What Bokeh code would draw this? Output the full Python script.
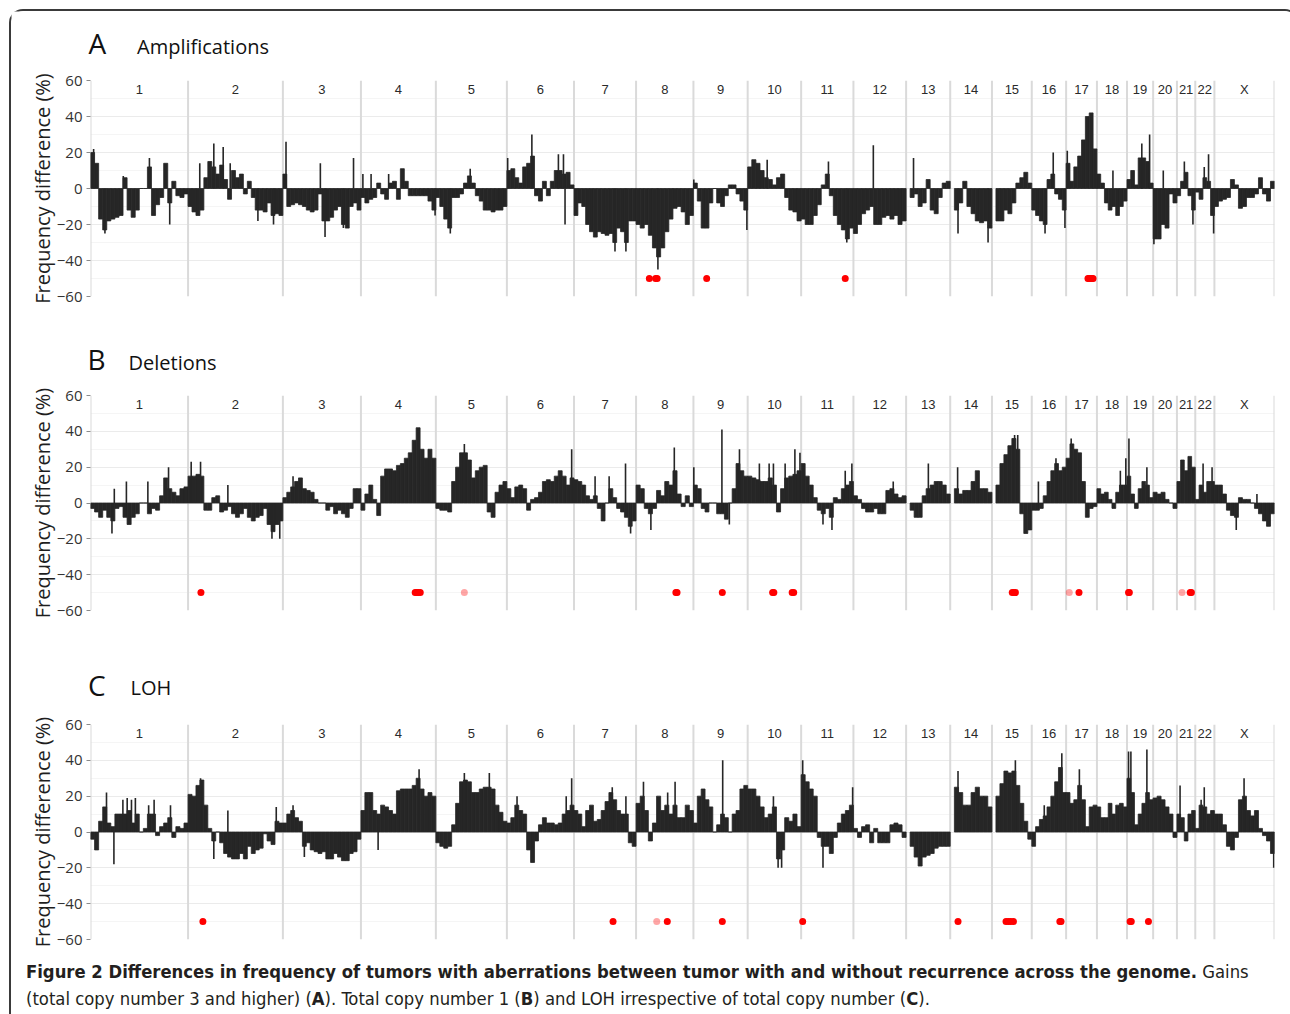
import numpy as np
from bokeh.plotting import figure
from bokeh.models import Range1d, SingleIntervalTicker, Div
from bokeh.layouts import column
from bokeh.core.properties import value
from bokeh.embed import file_html
from bokeh.resources import INLINE

# ---------------------------------------------------------------- data
CHROMS = ["1", "2", "3", "4", "5", "6", "7", "8", "9", "10", "11", "12",
          "13", "14", "15", "16", "17", "18", "19", "20", "21", "22", "X"]
CHROM_LEN = [250, 243, 200, 192, 182, 172, 159, 147, 139, 137, 134, 135,
             113, 107, 102, 88, 79, 77, 67, 61, 47, 49, 154]  # Mb
Y_TICKS = [-60, -40, -20, 0, 20, 40, 60]

# binned frequency differences (%) per chromosome, equal-width bins
AMP_BINS = [
    [20, 14, -17, -23, -18, -17, -16, -15, 6, -12, -16, -12, 0, 0, 12, -15, -9, -5, 14, -8, 4, -4, -5, -3],
    [-10, -13, -15, -12, 6, 15, 12, 8, 13, 5, -6, 10, 6, 8, -3, 4, -5, -12, -12, -13, -8, -15, -14, -15],
    [8, -10, -9, -8, -9, -10, -12, -13, -12, -3, -18, -18, -16, -12, -10, -20, -22, -10, -8, -12],
    [-5, -8, -6, -5, 3, -3, -6, 3, 4, -6, 11, 4, -4, -4, -4, -4, -4, -7, -12],
    [-5, -10, -17, -22, -5, -5, -3, 3, 7, 3, -4, -7, -12, -12, -13, -12, -12, -10],
    [10, 11, 6, 3, 12, 14, 18, -4, -7, 4, -4, 4, 10, 10, 8, 9, 2],
    [-15, -8, -10, -20, -24, -27, -24, -25, -26, -25, -30, -22, -24, -30, -18, -18],
    [-20, -22, -20, -26, -33, -38, -33, -24, -17, -11, -10, -13, -20, -15],
    [3, -7, -22, -22, -8, 0, -8, -10, -4, 2, 2, -3, -7, -12],
    [12, 16, 14, 10, 6, 5, 2, 6, 8, -5, -12, -13, -18],
    [-17, -20, -20, -15, -9, 2, 8, -4, -15, -20, -23, -28, -22],
    [-25, -20, -14, -12, -10, -20, -20, -16, -15, -17, -15, -20, -18],
    [None, -5, -3, -10, -8, 5, -12, -14, -5, 3, 4],
    [None, -12, -8, 4, -10, -14, -18, -19, -18, -22],
    [None, -18, -18, -12, -14, -8, 3, 6, 9, 3],
    [-12, -15, -18, -20, 5, 8, -3, -6, -12],
    [14, 4, 12, 18, 27, 40, 42, 22],
    [8, 3, -8, -12, -10, -15, -10, -7],
    [5, 10, 2, 17, 17, 15, 3],
    [-28, -28, -20, -22, -3, -8],
    [-4, 4, 9, -4, -12],
    [-2, -6, 6, 4, -15],
    [-10, -7, -6, -5, 5, 2, -11, -10, -5, -5, -3, 6, -3, -7, 4],
]
DEL_BINS = [
    [-3, -5, -8, -4, -8, -10, -3, -2, -8, -12, -8, -6, 0, 0, -6, -3, -4, 4, 14, 8, 6, 4, 8, 9],
    [15, 15, 16, 15, -4, -4, 3, 4, -5, -4, -2, -6, -8, -6, -3, -8, -10, -8, -7, -3, -12, -16, -12, -10],
    [3, 6, 9, 12, 14, 8, 7, 6, 2, 0, 0, -4, -2, -6, -4, -6, -8, -3, 8, 8],
    [-4, 5, 10, 2, -7, 15, 19, 19, 18, 21, 22, 25, 28, 35, 42, 30, 25, 30, 25],
    [-3, -4, -4, -5, 12, 20, 28, 28, 24, 14, 18, 20, 21, -5, -8, 6, 10, 12],
    [8, 3, 9, 10, 8, -4, 2, 3, 6, 12, 13, 12, 15, 18, 15, 10, 14],
    [13, 12, 10, 4, 2, 4, -3, -10, 0, 8, 3, -3, -5, -8, -13, -10],
    [10, 8, -3, -6, -3, 7, 4, 12, 10, 18, 5, -2, 4, -2],
    [10, 8, -3, -5, 0, 0, -6, -6, -9, 0, 8, 22, 18, 15],
    [15, 14, 13, 12, 12, 14, 10, -5, 8, 14, 15, 16, 18],
    [22, 15, 10, 3, -4, -6, -3, -8, 3, 2, 8, 10, 12],
    [4, 2, -3, -5, -5, -3, -6, -6, 7, 8, 5, 3, 4],
    [None, -4, -8, -8, 4, 8, 10, 12, 12, 10, 5],
    [None, 8, 5, 7, 7, 12, 18, 8, 8, 6],
    [None, 10, 22, 27, 32, 36, 30, -6, -17, -15],
    [-4, -4, -3, 4, 12, 18, 22, 18, 20],
    [25, 33, 30, 28, 12, -8, -3, -2],
    [8, 5, 6, 2, -3, 6, 10, 10],
    [15, 5, -3, 8, 12, 10, 3],
    [6, 5, 6, 2, 0, -3],
    [12, 24, 18, 26, 20],
    [2, 10, 6, 12, 12],
    [10, 10, 5, -4, -7, -8, 3, 2, 2, 0, -3, -6, -10, -13, -6],
]
LOH_BINS = [
    [-4, -10, 6, 14, 5, 3, 10, 10, 10, 12, 5, 10, 0, 2, 10, 10, -2, 3, 5, 8, -3, 3, 2, 5],
    [21, 20, 26, 29, 15, 2, -5, 0, -6, -12, -14, -15, -15, -12, -15, -8, -12, -10, -9, -1, -5, -7, 6, 5],
    [5, 10, 12, 8, 6, -8, -6, -10, -11, -12, -11, -15, -15, -12, -14, -16, -16, -12, -11, -4],
    [12, 22, 22, 12, 10, 15, 14, 12, 10, 23, 24, 24, 24, 26, 30, 24, 20, 22, 20],
    [-6, -8, -9, -8, 4, 16, 28, 29, 28, 22, 22, 24, 25, 25, 24, 15, 11, 6],
    [5, 8, 15, 12, 10, -10, -17, -5, 4, 8, 5, 5, 4, 5, 10, 12, 15],
    [12, 10, 3, 12, 15, 6, 7, 12, 17, 22, 18, 12, 10, 10, -6, -8],
    [16, 20, 12, -5, 5, 20, 12, 15, 10, 15, 8, 8, 15, 12],
    [5, 20, 24, 18, 14, 0, 4, 10, 8, 0, 10, 12, 24, 26],
    [24, 24, 20, 14, 8, 10, 14, -15, -10, 8, 6, 10, 3],
    [32, 28, 24, 20, -3, -8, -8, -12, -3, 5, 10, 12, 15],
    [2, -3, 3, 4, -6, 2, -6, -6, -6, 4, 5, 4, -3],
    [None, -8, -14, -19, -14, -13, -12, -9, -8, -8, -8],
    [None, 25, 22, 15, 15, 22, 25, 20, 20, 14],
    [None, 20, 27, 34, 33, 34, 26, 16, 6, -4],
    [-8, 3, 7, 9, 14, 20, 28, 36, 22],
    [22, 16, 18, 26, 18, 3, 14, 15],
    [14, 8, 8, 16, 10, 15, 16, 14],
    [30, 22, 4, 10, 16, 22, 18],
    [19, 20, 18, 14, 10, -3],
    [10, 8, -5, 10, 12],
    [2, 15, 14, 10, 12],
    [10, 10, 4, -8, -10, -3, 18, 20, 12, 9, 12, 2, -2, -5, -12],
]

# single-probe spikes: (chromosome, position Mb, value %)
AMP_SPIKES = [
    ("1", 8, 22), ("1", 37, -25), ("1", 84, 7), ("1", 151, 17), ("1", 203, -20),
    ("2", 30, 14), ("2", 66, 25), ("2", 90, 23), ("2", 108, 14), ("2", 179, -18), ("2", 219, -20),
    ("3", 8, 26), ("3", 96, 14), ("3", 108, -27), ("3", 155, -22), ("3", 181, 17),
    ("4", 5, 8), ("4", 26, 8), ("4", 71, 8), ("4", 190, -15),
    ("5", 37, -25), ("5", 88, 11),
    ("6", 2, 17), ("6", 64, 30), ("6", 132, 19), ("6", 145, 19), ("6", 149, -20),
    ("7", 105, -35), ("7", 133, -35), ("8", 56, -45),
    ("9", 1, 5), ("9", 137, -23), ("10", 50, 16),
    ("11", 70, 15), ("11", 117, -30), ("12", 51, 24), ("13", 19, 17),
    ("14", 20, -25), ("14", 97, -30),
    ("16", 34, -25), ("16", 55, 20), ("16", 85, -22), ("17", 3, 21), ("18", 41, 10),
    ("19", 38, 25), ("19", 58, 30), ("20", 2, -31), ("20", 26, 10),
    ("21", 19, 15), ("21", 41, -20), ("22", 23, 12), ("22", 34, 19), ("22", 47, -25),
]
DEL_SPIKES = [
    ("1", 55, -17), ("1", 61, 8), ("1", 92, 12), ("1", 147, 12), ("1", 200, 20),
    ("2", 8, 23), ("2", 32, 23), ("2", 102, 10), ("2", 215, -20), ("2", 235, -20),
    ("3", 26, 15), ("5", 73, 33), ("6", 166, 30),
    ("7", 54, 15), ("7", 90, 15), ("7", 132, 22), ("7", 145, -17),
    ("8", 38, -15), ("8", 98, 31),
    ("9", 1, 20), ("9", 73, 41), ("9", 92, -12), ("9", 118, 30),
    ("10", 30, 22), ("10", 55, 22), ("10", 66, 22), ("10", 96, 22), ("10", 121, 30), ("10", 134, 28),
    ("11", 56, -12), ("11", 79, -15), ("11", 113, 18), ("11", 130, 22),
    ("12", 102, 12), ("13", 57, 22), ("14", 19, 20), ("15", 58, 38), ("15", 66, 38),
    ("16", 17, 12), ("16", 62, 25), ("17", 13, 36), ("18", 60, 18), ("18", 74, 25),
    ("19", 5, 36), ("19", 51, 20), ("22", 20, 22), ("22", 43, 20),
    ("X", 56, -15), ("X", 109, 5),
]
LOH_SPIKES = [
    ("1", 41, 22), ("1", 60, -18), ("1", 83, 18), ("1", 94, 19), ("1", 105, 18), ("1", 115, 19),
    ("1", 149, 15), ("1", 163, 18), ("1", 205, 15),
    ("2", 32, 30), ("2", 66, -15), ("2", 102, 12), ("2", 226, 14),
    ("3", 26, 15), ("3", 55, -14), ("4", 44, -10), ("4", 149, 35),
    ("5", 73, 33), ("5", 137, 33), ("6", 26, 20), ("6", 152, 20), ("6", 166, 30),
    ("7", 98, 25), ("7", 133, 20), ("8", 19, 28), ("8", 81, 22), ("8", 100, 28),
    ("9", 75, 40), ("10", 66, 20), ("10", 78, -20), ("10", 87, -20),
    ("11", 4, 40), ("11", 56, -20), ("11", 132, 25), ("14", 20, 34), ("15", 60, 40),
    ("16", 32, 15), ("16", 77, 44), ("17", 34, 35),
    ("19", 4, 45), ("19", 10, 45), ("19", 51, 46), ("21", 8, 26),
    ("22", 15, 18), ("22", 23, 25), ("X", 76, 30), ("X", 152, -20),
]

# significant loci: (chromosome, position Mb, level 1 = strong / 2 = weak)
AMP_SIG = [("8", 34, 1), ("8", 50, 1), ("8", 54, 1), ("9", 34, 1), ("11", 113, 1),
           ("17", 56, 1), ("17", 59, 1), ("17", 62, 1), ("17", 66, 1), ("17", 69, 1)]
DEL_SIG = [("2", 33, 1), ("4", 139, 1), ("4", 143, 1), ("4", 147, 1), ("4", 152, 1), ("5", 73, 2),
           ("8", 102, 1), ("8", 105, 1), ("9", 74, 1), ("10", 64, 1), ("10", 67, 1),
           ("10", 114, 1), ("10", 118, 1), ("15", 52, 1), ("15", 56, 1), ("15", 60, 1),
           ("17", 8, 2), ("17", 33, 1), ("19", 4, 1), ("19", 6, 1),
           ("21", 13, 2), ("21", 34, 1), ("21", 37, 1)]
LOH_SIG = [("2", 38, 1), ("7", 100, 1), ("8", 53, 2), ("8", 80, 1), ("9", 74, 1), ("11", 4, 1),
           ("14", 20, 1), ("15", 36, 1), ("15", 42, 1), ("15", 48, 1), ("15", 55, 1),
           ("16", 72, 1), ("16", 75, 1), ("19", 8, 1), ("19", 11, 1), ("19", 55, 1)]
SIG_Y = -50

PANEL_LETTERS = ["A", "B", "C"]
PANEL_NAMES = ["Amplifications", "Deletions", "LOH"]
CAPTION_BOLD = ("Figure 2 Differences in frequency of tumors with aberrations between "
                "tumor with and without recurrence across the genome.")

# ---------------------------------------------------------------- layout
FIG_W = 1276
BORDER_L, BORDER_R = 79, 13
BAR = "#262626"
TEXT = "#1e1e1e"

starts = np.concatenate([[0.0], np.cumsum(CHROM_LEN)[:-1]])
total = float(np.sum(CHROM_LEN))
cstart = dict(zip(CHROMS, starts))


def title_fig(letter, name, height, letter_x, name_x, letter_mid, name_mid):
    # y measured from the top of this strip (converted for a bottom-up range)
    t = figure(width=FIG_W, height=height, output_backend="svg", toolbar_location=None,
               title=None, x_range=Range1d(0, FIG_W), y_range=Range1d(0, height),
               x_axis_location=None, y_axis_location=None, min_border=0,
               frame_align=False)
    t.outline_line_color = None
    t.grid.visible = False
    t.text(x=[letter_x], y=[height - letter_mid], text=[letter], text_font=value("Open Sans"),
           text_font_size="28px", text_color="#111111", text_baseline="middle")
    t.text(x=[name_x], y=[height - name_mid], text=[name], text_font=value("Open Sans"),
           text_font_size="20px", text_color="#111111", text_baseline="middle")
    return t


def make_panel(bins, spikes, sig, top, frame_h, bottom):
    p = figure(width=FIG_W, height=top + frame_h + bottom, output_backend="svg",
               toolbar_location=None, title=None,
               x_range=Range1d(0, total), y_range=Range1d(-60, 60),
               x_axis_location=None, frame_align=False,
               min_border_left=BORDER_L, min_border_right=BORDER_R,
               min_border_top=top, min_border_bottom=bottom)
    p.outline_line_color = None
    p.background_fill_color = "white"
    p.border_fill_color = "white"
    p.xgrid.visible = False
    p.ygrid.grid_line_color = "#ebebeb"
    p.ygrid.grid_line_width = 1
    p.ygrid.minor_grid_line_color = "#f5f5f5"
    ax = p.yaxis[0]
    ax.ticker = SingleIntervalTicker(interval=20, num_minor_ticks=2)
    ax.axis_line_color = None
    ax.major_tick_line_color = "#8a8a8a"
    ax.major_tick_out = 4
    ax.major_tick_in = 0
    ax.minor_tick_line_color = None
    ax.major_label_text_font = "Open Sans"
    ax.major_label_text_font_size = "15px"
    ax.major_label_text_color = "#333333"
    ax.major_label_standoff = 4
    ax.axis_label = "Frequency difference (%)"
    ax.axis_label_text_font = "Open Sans"
    ax.axis_label_text_font_size = "20px"
    ax.axis_label_text_font_style = "normal"
    ax.axis_label_text_color = TEXT
    ax.axis_label_standoff = -2

    # chromosome separators
    bounds = list(starts) + [total]
    p.segment(x0=bounds, y0=-60, x1=bounds, y1=60, line_color="#dadada", line_width=2)

    # binned bars
    xs, ws, tops = [], [], []
    for c, L, vals in zip(CHROMS, CHROM_LEN, bins):
        w = L / len(vals)
        for i, v in enumerate(vals):
            if v is None:
                continue
            xs.append(cstart[c] + (i + 0.5) * w)
            ws.append(w)
            tops.append(v)
    p.vbar(x=xs, width=ws, top=tops, bottom=0, fill_color=BAR,
           line_color=BAR, line_width=0.8)

    # spikes
    sx = [cstart[c] + pos for c, pos, v in spikes]
    sv = [v for c, pos, v in spikes]
    p.segment(x0=sx, y0=0, x1=sx, y1=sv, line_color=BAR, line_width=1.6)

    # significant loci
    dx = [cstart[c] + pos for c, pos, lv in sig]
    da = [1.0 if lv == 1 else 0.35 for c, pos, lv in sig]
    p.scatter(x=dx, y=[SIG_Y] * len(dx), size=7, fill_color="#ff0000",
              fill_alpha=da, line_color=None)

    # chromosome names
    centers = [s + L / 2 for s, L in zip(starts, CHROM_LEN)]
    p.text(x=centers, y=[55] * len(centers), text=CHROMS,
           text_font=value("Liberation Sans"), text_font_size="13px",
           text_align="center", text_baseline="middle", text_color="#2a2a2a")
    return p


ta = title_fig(PANEL_LETTERS[0], PANEL_NAMES[0], 55, 77, 125.5, 31, 34.5)
pa = make_panel(AMP_BINS, AMP_SPIKES, AMP_SIG, 14, 216, 20)
tb = title_fig(PANEL_LETTERS[1], PANEL_NAMES[1], 64, 76, 117, 42, 45.5)
pb = make_panel(DEL_BINS, DEL_SPIKES, DEL_SIG, 15, 215, 20)
tc = title_fig(PANEL_LETTERS[2], PANEL_NAMES[2], 75, 76.5, 119, 54, 56.5)
pc = make_panel(LOH_BINS, LOH_SPIKES, LOH_SIG, 19, 215, 9)

caption_html = (
    '<div style="padding:5px 0 0 10px; font-family:\'Liberation Sans Narrow\',\'DejaVu Sans Condensed\',sans-serif;'
    ' font-size:18.3px; line-height:27px; color:#231f20; white-space:nowrap;">'
    '<b>' + CAPTION_BOLD + '</b> Gains<br>'
    '(total copy number 3 and higher) (<b>A</b>). Total copy number 1 (<b>B</b>) '
    'and LOH irrespective of total copy number (<b>C</b>).</div>'
)
caption = Div(text=caption_html, width=FIG_W, height=64,
              styles={"overflow": "hidden"})

layout = column(ta, pa, tb, pb, tc, pc, caption,
                styles={"border": "2px solid #3a3a3a", "border-bottom": "none",
                        "border-radius": "14px 14px 0 0", "background": "white",
                        "margin-left": "9px", "margin-top": "9px"})

open("out.html", "w").write(file_html(layout, INLINE))
